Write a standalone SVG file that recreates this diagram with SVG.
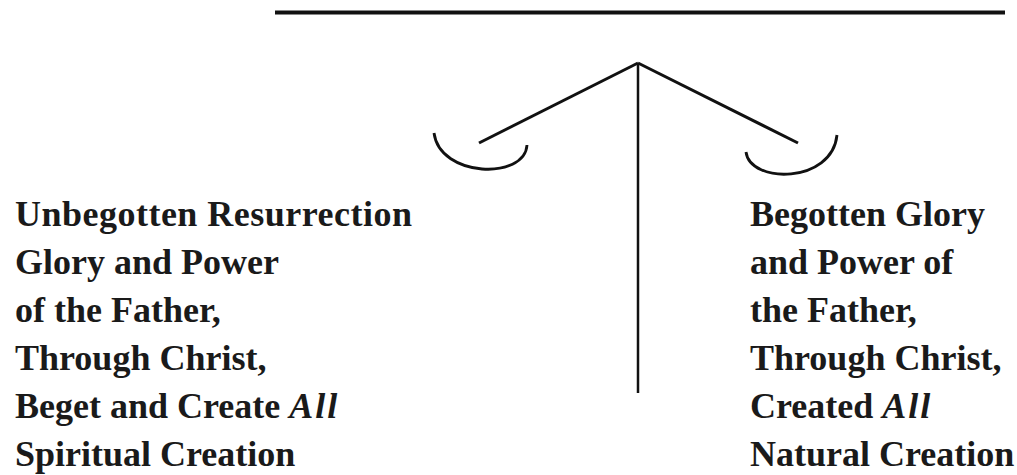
<svg xmlns="http://www.w3.org/2000/svg" width="1017" height="475" viewBox="0 0 1017 475">
<style>
.ln{stroke:#111;fill:none;stroke-linecap:butt}
.t{font-family:"Liberation Serif","Times New Roman",serif;font-weight:bold;font-size:36px;fill:#1a1a1a}
.i{font-style:italic;letter-spacing:2px}
</style>
<rect width="1017" height="475" fill="#fff"/>
<g id="connectors">
<line class="ln" x1="275" y1="12.5" x2="1005" y2="12.5" stroke-width="4"/>
<line class="ln" x1="638" y1="63" x2="479" y2="143" stroke-width="3"/>
<line class="ln" x1="638" y1="63" x2="798" y2="143" stroke-width="3"/>
<line class="ln" x1="638" y1="63" x2="638" y2="393" stroke-width="2.5"/>
<path class="ln" d="M434,133 C440,178 525,180 527,145" stroke-width="2.8"/>
<path class="ln" d="M746,152 C750,184 832,184 837,135" stroke-width="2.8"/>
</g>
<g id="left-node">
<text class="t" x="15" y="226" textLength="397" lengthAdjust="spacing">Unbegotten Resurrection</text>
<text class="t" x="15" y="274">Glory and Power</text>
<text class="t" x="15" y="322">of the Father,</text>
<text class="t" x="15" y="370">Through Christ,</text>
<text class="t" x="15" y="418">Beget and Create <tspan class="i">All</tspan></text>
<text class="t" x="15" y="466">Spiritual Creation</text>
</g>
<g id="right-node">
<text class="t" x="750" y="226">Begotten Glory</text>
<text class="t" x="750" y="274">and Power of</text>
<text class="t" x="750" y="322">the Father,</text>
<text class="t" x="750" y="370">Through Christ,</text>
<text class="t" x="750" y="418">Created <tspan class="i">All</tspan></text>
<text class="t" x="750" y="466">Natural Creation</text>
</g>
</svg>
